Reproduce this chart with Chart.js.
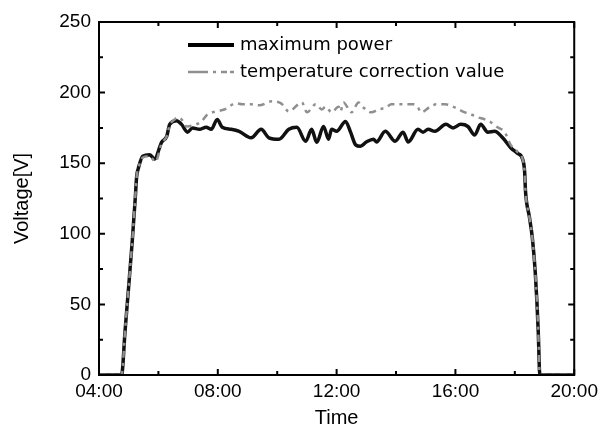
<!DOCTYPE html>
<html>
<head>
<meta charset="utf-8">
<script src="https://cdn.jsdelivr.net/npm/chart.js@4.4.1/dist/chart.umd.min.js"></script>
<style>
html,body{margin:0;padding:0;background:#fff;}
#wrap{width:603px;height:433px;position:relative;}
</style>
</head>
<body>
<div id="wrap"><canvas id="c" width="603" height="433"></canvas></div>
<script>
// ---- data (hours of day, voltage V) ----
const mpTime = [4.0, 4.76, 4.88, 5.0, 5.12, 5.22, 5.27, 5.32, 5.47, 5.71, 5.87, 6.11, 6.28, 6.38, 6.61, 6.78, 6.98, 7.15, 7.38, 7.61, 7.78, 7.98, 8.15, 8.45, 8.72, 9.12, 9.46, 9.72, 10.06, 10.39, 10.66, 10.96, 11.16, 11.33, 11.56, 11.73, 11.83, 12.0, 12.30, 12.47, 12.64, 12.80, 13.0, 13.24, 13.34, 13.64, 13.97, 14.24, 14.41, 14.74, 14.91, 15.08, 15.31, 15.68, 15.92, 16.18, 16.42, 16.65, 16.85, 17.09, 17.32, 17.59, 17.86, 18.09, 18.26, 18.33, 18.36, 18.49, 18.59, 18.69, 18.79, 18.83, 18.85, 20.0];
const mpVolt = [0, 0, 32, 63, 95, 125, 141, 146, 155, 156, 153, 165, 169, 177.5, 180, 177.5, 172, 175, 174, 175.5, 174, 181, 175.4, 174, 172.6, 168, 174, 168, 167, 174, 175.4, 165.5, 174, 164.8, 176, 167, 174, 172.6, 179.6, 172, 163, 162, 165, 167, 165, 172.6, 165.5, 172, 165, 174, 172, 174, 172.6, 177.5, 175, 177.5, 176, 170, 177.5, 172, 172.6, 168, 161, 157, 153, 144, 130, 112, 97, 72, 30, 3, 0, 0];

const tcTime = [4.0, 4.76, 4.88, 5.0, 5.12, 5.22, 5.27, 5.32, 5.47, 5.71, 5.90, 6.11, 6.28, 6.38, 6.55, 6.64, 6.78, 6.95, 7.2, 7.45, 7.65, 7.95, 8.22, 8.62, 8.82, 9.12, 9.39, 9.82, 10.13, 10.39, 10.83, 11.0, 11.3, 11.5, 11.63, 11.83, 12.07, 12.13, 12.23, 12.5, 12.74, 12.9, 13.17, 13.4, 13.67, 13.84, 14.18, 14.58, 14.74, 14.84, 15.15, 15.35, 15.65, 15.98, 16.32, 16.52, 16.75, 16.99, 17.19, 17.42, 17.66, 17.86, 18.09, 18.26, 18.33, 18.36, 18.49, 18.59, 18.69, 18.79, 18.83, 18.85, 20.0];
const tcVolt = [0, 0, 32, 63, 95, 125, 141, 146, 154, 155, 151, 164, 169, 177, 181, 182.5, 181, 176, 177, 179.6, 184.6, 186.7, 188, 192.4, 191.7, 191.7, 191, 193.8, 192.4, 186.7, 193, 186, 191.7, 188, 190, 186, 190, 186.7, 193, 186, 193, 189.5, 186, 188, 189.5, 191.7, 191.7, 191.7, 189.5, 186, 190, 191.7, 191.7, 189.5, 186, 184.6, 182.5, 181, 179, 175.4, 172, 163, 158, 153, 144, 130, 112, 97, 72, 30, 3, 0, 0];

const seriesNames = ["maximum power", "temperature correction value"];
const xTickValues = [4, 8, 12, 16, 20];
const xMinorValues = [6, 10, 14, 18];
const yTickValues = [0, 50, 100, 150, 200, 250];
const yMinorValues = [25, 75, 125, 175, 225];
const xTitle = "Time";
const yTitle = "Voltage[V]";

function pts(t, v) { return t.map((x, i) => ({x: x, y: v[i]})); }
function hhmm(h) { return (h < 10 ? "0" : "") + h + ":00"; }

const TICKFONT = {family: "'Liberation Sans', Arial, sans-serif", size: 19};
const GRAY = "#8f8f8f";
const GRAY_DASH = [7, 5, 3, 5];

const framePlugin = {
  id: "frame",
  afterDatasetsDraw(chart) {
    const {ctx, chartArea: a, scales} = chart;
    const xs = scales.x, ys = scales.y;
    ctx.save();
    ctx.strokeStyle = "#000";
    ctx.lineWidth = 2;
    ctx.strokeRect(a.left, a.top, a.right - a.left, a.bottom - a.top);
    ctx.lineWidth = 2;
    const tick = (vals, len, horiz) => {
      vals.forEach(v => {
        ctx.beginPath();
        if (horiz) {
          const px = xs.getPixelForValue(v);
          ctx.moveTo(px, a.bottom); ctx.lineTo(px, a.bottom - len);
          ctx.moveTo(px, a.top); ctx.lineTo(px, a.top + len);
        } else {
          const py = ys.getPixelForValue(v);
          ctx.moveTo(a.left, py); ctx.lineTo(a.left + len, py);
          ctx.moveTo(a.right, py); ctx.lineTo(a.right - len, py);
        }
        ctx.stroke();
      });
    };
    tick(xTickValues, 6, true);
    tick(xMinorValues, 4, true);
    tick(yTickValues, 6, false);
    tick(yMinorValues, 4, false);

    // legend
    const lx0 = 188, lx1 = 234, tx = 240;
    const rows = [45, 72];
    ctx.font = "18px 'DejaVu Sans', sans-serif";
    ctx.fillStyle = "#000";
    ctx.textBaseline = "middle";
    ctx.textAlign = "left";
    ctx.strokeStyle = "#000";
    ctx.lineWidth = 4;
    ctx.beginPath(); ctx.moveTo(lx0, rows[0]); ctx.lineTo(lx1, rows[0]); ctx.stroke();
    ctx.fillText(seriesNames[0], tx, rows[0]);
    ctx.strokeStyle = GRAY;
    ctx.lineWidth = 2.5;
    ctx.setLineDash([20, 5, 3, 5, 6, 3]);
    ctx.beginPath(); ctx.moveTo(lx0, rows[1]); ctx.lineTo(lx1, rows[1]); ctx.stroke();
    ctx.setLineDash([]);
    ctx.fillText(seriesNames[1], tx, rows[1]);
    ctx.restore();
  }
};

new Chart(document.getElementById("c"), {
  type: "line",
  data: {
    datasets: [
      {
        label: seriesNames[0],
        data: pts(mpTime, mpVolt),
        borderColor: "#111",
        borderWidth: 3.5,
        pointRadius: 0,
        cubicInterpolationMode: "monotone",
        order: 1
      },
      {
        label: seriesNames[1],
        data: pts(tcTime, tcVolt),
        borderColor: GRAY,
        borderWidth: 2.5,
        borderDash: GRAY_DASH,
        pointRadius: 0,
        cubicInterpolationMode: "monotone",
        order: 0
      }
    ]
  },
  options: {
    responsive: false,
    animation: false,
    events: [],
    layout: {padding: {left: 0, right: 26, top: 22, bottom: 0}},
    plugins: {legend: {display: false}, tooltip: {enabled: false}},
    scales: {
      x: {
        type: "linear",
        min: 4, max: 20,
        afterBuildTicks(s) { s.ticks = xTickValues.map(v => ({value: v})); },
        afterFit(s) { s.height = 58; },
        grid: {display: false, drawTicks: false},
        border: {display: false},
        ticks: {
          color: "#000", font: TICKFONT, padding: 5, maxRotation: 0,
          callback: v => hhmm(v)
        },
        title: {display: true, text: xTitle, color: "#000",
          font: {family: "'Liberation Sans', Arial, sans-serif", size: 20},
          padding: {top: 0, bottom: 3}}
      },
      y: {
        min: 0, max: 250,
        afterBuildTicks(s) { s.ticks = yTickValues.map(v => ({value: v})); },
        afterFit(s) { s.width = 99; },
        grid: {display: false, drawTicks: false},
        border: {display: false},
        ticks: {color: "#000", font: TICKFONT, padding: 8},
        title: {display: true, text: yTitle, color: "#000",
          font: {family: "'Liberation Sans', Arial, sans-serif", size: 20},
          padding: {top: 10, bottom: 0}}
      }
    }
  },
  plugins: [framePlugin]
});
</script>
</body>
</html>
